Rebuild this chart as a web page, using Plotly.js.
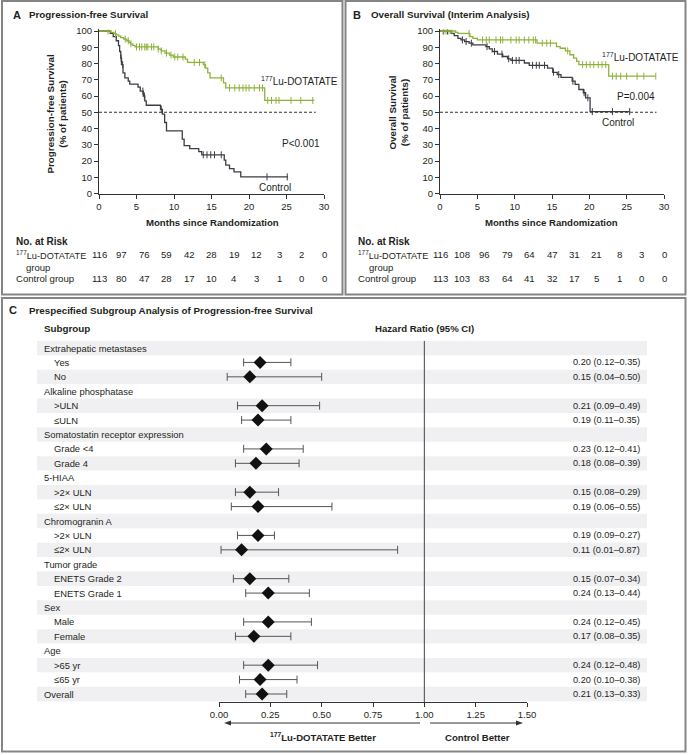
<!DOCTYPE html>
<html><head><meta charset="utf-8">
<script src="https://cdn.plot.ly/plotly-3.0.1.min.js"></script>
<style>html,body{margin:0;padding:0;background:#fff}#chart{width:688px;height:755px}</style>
</head><body><div id="chart"></div>
<script>
// ---------------- DATA ----------------
// Panel A: progression-free survival (months, % of patients)
const pfsLuT = [0,1.6,2.0,2.3,2.6,2.9,3.3,3.7,4.0,4.2,4.5,4.8,7.9,8.3,8.8,9.4,9.9,11.5,11.8,13.9,14.2,14.5,14.8,16.6,16.9,22.1];
const pfsLuS = [100,99.2,98.4,97.6,96.8,95.9,95.0,94.0,93.0,92.1,91.2,90.2,88.9,87.8,86.4,85.2,84.0,82.7,80.7,79.3,77.2,74.2,71.1,68.1,65.0,57.3];
const pfsLuEnd = 28.7;
const pfsLuCens = [1.2,2.2,3.5,3.9,4.25,5.0,5.4,5.7,6.1,6.3,6.5,7.0,7.3,7.9,8.3,9.0,9.6,10.1,10.5,11.2,12.7,13.4,14.1,16.3,17.4,18.1,18.7,19.2,19.6,20.0,20.7,21.4,21.8,22.5,23.0,23.6,24.0,25.6,26.9,28.5];
const pfsCtT = [0,1.5,1.9,2.3,2.6,2.75,2.9,3.0,3.2,3.45,3.9,4.1,5.2,5.5,5.9,6.1,6.3,8.2,8.45,8.75,9.0,11.1,11.35,12.1,13.3,13.7,16.7,16.9,17.4,18.0,18.9];
const pfsCtS = [100,98.6,96.5,94.0,91.0,87.4,83.3,79.3,74.2,71.1,69.1,67.3,65.5,63.0,60.0,57.0,54.3,51.8,48.8,43.7,38.6,33.5,29.5,27.6,25.8,23.8,20.5,17.5,15.3,13.3,10.2];
const pfsCtEnd = 25.2;
const pfsCtCens = [2.95,3.15,5.85,6.05,8.3,13.9,14.4,14.9,15.4,16.3,22.4,25.1];

// Panel B: overall survival
const osLuT = [0,2.1,2.4,4.0,4.4,5.0,13.0,15.6,16.1,16.8,17.4,17.9,18.3,18.6,22.6];
const osLuS = [100,99.2,98.6,96.5,95.5,94.5,92.5,90.4,89.4,87.8,85.4,83.3,81.3,79.3,72.2];
const osLuEnd = 28.9;
const osLuCens = [0.4,0.8,1.2,1.6,3.9,5.7,6.2,6.6,7.5,8.1,8.4,9.5,10.2,10.6,11.3,11.9,12.5,12.8,13.7,14.3,14.8,17.1,19.1,19.6,20.1,20.6,21.2,21.7,22.2,23.1,23.6,24.2,25.0,26.4,27.3,28.9];
const osCtT = [0,1.5,1.9,2.4,2.8,3.3,3.9,4.4,6.15,6.6,7.0,7.7,8.4,9.05,9.5,11.3,11.95,14.4,15.1,15.7,16.2,17.7,18.1,18.6,19.2,19.5,20.1];
const osCtS = [100,98.6,97.2,95.5,94.5,93.5,92.5,91.5,90.4,89.0,87.4,85.8,84.3,82.9,81.9,80.3,78.9,77.2,74.6,73.2,71.5,69.1,67.1,64.0,62.0,58.9,50.4];
const osCtEnd = 25.4;
const osCtCens = [0.5,1.0,3.0,3.5,4.2,6.3,7.3,8.3,9.2,9.7,10.2,10.6,12.4,12.9,13.3,14.0,15.2,15.9,17.8,19.3,19.8,20.4,23.1,25.4];

// Numbers at risk
const riskTimes = [0,3,6,9,12,15,18,21,24,27,30];
const pfsRiskLu = [116,97,76,59,42,28,19,12,3,2,0];
const pfsRiskCt = [113,80,47,28,17,10,4,3,1,0,0];
const osRiskLu = [116,108,96,79,64,47,31,21,8,3,0];
const osRiskCt = [113,103,83,64,41,32,17,5,1,0,0];

// Panel C: subgroup analysis
const rowLabels = ['Extrahepatic metastases','Yes','No','Alkaline phosphatase','>ULN','≤ULN',
 'Somatostatin receptor expression','Grade <4','Grade 4','5-HIAA','>2× ULN','≤2× ULN',
 'Chromogranin A','>2× ULN','≤2× ULN','Tumor grade','ENETS Grade 2','ENETS Grade 1',
 'Sex','Male','Female','Age','>65 yr','≤65 yr','Overall'];
const rowLevel = [0,1,1,0,1,1,0,1,1,0,1,1,0,1,1,0,1,1,0,1,1,0,1,1,0];
const hrVal = [null,0.20,0.15,null,0.21,0.19,null,0.23,0.18,null,0.15,0.19,null,0.19,0.11,null,0.15,0.24,null,0.24,0.17,null,0.24,0.20,0.21];
const hrLo  = [null,0.12,0.04,null,0.09,0.11,null,0.12,0.08,null,0.08,0.06,null,0.09,0.01,null,0.07,0.13,null,0.12,0.08,null,0.12,0.10,0.13];
const hrHi  = [null,0.35,0.50,null,0.49,0.35,null,0.41,0.39,null,0.29,0.55,null,0.27,0.87,null,0.34,0.44,null,0.45,0.35,null,0.48,0.38,0.33];
const hrTicks = [0,0.25,0.5,0.75,1,1.25,1.5];

// ---------------- LAYOUT HELPERS ----------------
const W=688,H=755;
const px=x=>x/W, py=y=>1-y/H;
const FONT='Liberation Sans, Arial, sans-serif';
const TXT='#231f20';
const GREEN='#8db33a', DARK='#3c3c44';

function stepAt(T,S,t){let v=S[0];for(let i=0;i<T.length;i++){if(T[i]<=t)v=S[i];}return v;}
function curve(T,S,end,color,xa,ya){
  return {x:[...T,end],y:[...S,S[S.length-1]],mode:'lines',line:{shape:'hv',color:color,width:1.3},xaxis:xa,yaxis:ya,hoverinfo:'skip'};
}
function cens(T,S,C,color,xa,ya){
  return {x:C,y:C.map(t=>stepAt(T,S,t)),mode:'markers',marker:{symbol:'line-ns-open',size:5,color:color,line:{color:color,width:1}},xaxis:xa,yaxis:ya,hoverinfo:'skip'};
}

const traces=[
  curve(pfsCtT,pfsCtS,pfsCtEnd,DARK,'x','y'), cens(pfsCtT,pfsCtS,pfsCtCens,DARK,'x','y'),
  curve(pfsLuT,pfsLuS,pfsLuEnd,GREEN,'x','y'), cens(pfsLuT,pfsLuS,pfsLuCens,GREEN,'x','y'),
  curve(osCtT,osCtS,osCtEnd,DARK,'x2','y2'), cens(osCtT,osCtS,osCtCens,DARK,'x2','y2'),
  curve(osLuT,osLuS,osLuEnd,GREEN,'x2','y2'), cens(osLuT,osLuS,osLuCens,GREEN,'x2','y2')
];

// forest
const fIdx=[],fX=[],fP=[],fM=[];
hrVal.forEach((v,i)=>{if(v!==null){fIdx.push(-i);fX.push(v);fP.push(hrHi[i]-v);fM.push(v-hrLo[i]);}});
traces.push({x:fX,y:fIdx,mode:'markers',xaxis:'x3',yaxis:'y3',hoverinfo:'skip',cliponaxis:false,
  marker:{symbol:'diamond',size:10,color:'#111'},
  error_x:{type:'data',symmetric:false,array:fP,arrayminus:fM,color:'#555',thickness:1,width:4}});

const axBase={showgrid:false,zeroline:false,showline:true,linecolor:'#333',linewidth:1,ticks:'outside',ticklen:4,tickcolor:'#333',tickwidth:1,tickfont:{family:FONT,size:9.5,color:TXT},fixedrange:true};
const yTop=193.5-101*1.625;
const layout={
  width:W,height:H,margin:{l:0,r:0,t:0,b:0},paper_bgcolor:'#fff',plot_bgcolor:'rgba(0,0,0,0)',showlegend:false,
  font:{family:FONT,color:TXT,size:9.5},
  xaxis:Object.assign({},axBase,{domain:[px(99),px(324)],range:[0,30],tickvals:[0,5,10,15,20,25,30],anchor:'y'}),
  yaxis:Object.assign({},axBase,{domain:[py(193.5),py(yTop)],range:[0,101],tickvals:[0,10,20,30,40,50,60,70,80,90,100],anchor:'x'}),
  xaxis2:Object.assign({},axBase,{domain:[px(440),px(664)],range:[0,30],tickvals:[0,5,10,15,20,25,30],anchor:'y2'}),
  yaxis2:Object.assign({},axBase,{domain:[py(193.5),py(yTop)],range:[0,101],tickvals:[0,10,20,30,40,50,60,70,80,90,100],anchor:'x2'}),
  xaxis3:Object.assign({},axBase,{domain:[px(219),px(527)],range:[0,1.5],tickvals:hrTicks,tickformat:'.2f',anchor:'y3'}),
  yaxis3:{domain:[py(702),py(340.8)],range:[-24.555,0.5],visible:false,fixedrange:true,anchor:'x3'},
  shapes:[],annotations:[]
};
const S=layout.shapes, A=layout.annotations;
// panel borders
[[2,1,342.5,294.5],[345.5,1,685.5,294.5],[2,298,685.5,751.5]].forEach(b=>S.push({type:'rect',xref:'paper',yref:'paper',x0:px(b[0]),x1:px(b[2]),y0:py(b[3]),y1:py(b[1]),line:{color:'#858585',width:2},layer:'above'}));
// dashed 50% lines
S.push({type:'line',xref:'x',yref:'y',x0:0,x1:28.9,y0:50,y1:50,line:{color:'#333',width:1,dash:'3px,2px'}});
S.push({type:'line',xref:'x2',yref:'y2',x0:0,x1:29,y0:50,y1:50,line:{color:'#333',width:1,dash:'3px,2px'}});
// row shading
rowLabels.forEach((l,i)=>{ if(i%2===0) S.push({type:'rect',xref:'paper',yref:'y3',x0:px(37),x1:px(647),y0:-i-0.5,y1:-i+0.5,fillcolor:'#f0f0f2',line:{width:0},layer:'below'}); });
// reference line at HR 1
S.push({type:'line',xref:'x3',yref:'y3',x0:1,x1:1,y0:0.5,y1:-24.555,line:{color:'#444',width:1}});
// arrows
const ay=py(723);
S.push({type:'line',xref:'paper',yref:'paper',x0:px(420),x1:px(230),y0:ay,y1:ay,line:{color:'#333',width:1}});
S.push({type:'path',xref:'paper',yref:'paper',path:`M ${px(224)} ${ay} L ${px(231)} ${py(720.5)} L ${px(231)} ${py(725.5)} Z`,fillcolor:'#333',line:{width:0}});
S.push({type:'line',xref:'paper',yref:'paper',x0:px(430),x1:px(517),y0:ay,y1:ay,line:{color:'#333',width:1}});
S.push({type:'path',xref:'paper',yref:'paper',path:`M ${px(523)} ${ay} L ${px(516)} ${py(720.5)} L ${px(516)} ${py(725.5)} Z`,fillcolor:'#333',line:{width:0}});

function ann(text,x,y,opts){A.push(Object.assign({text:text,xref:'paper',yref:'paper',x:px(x),y:py(y),xanchor:'left',yanchor:'middle',showarrow:false,font:{family:FONT,size:9.5,color:TXT}},opts||{}));}
const LU='<sup>177</sup>Lu-DOTATATE';
// Panel A texts
ann('<b>A</b>',11,15,{font:{family:FONT,size:11,color:TXT}});
ann('<b>Progression-free Survival</b>',27,15,{font:{family:FONT,size:9.8,color:TXT}});
ann('<b>Progression-free Survival<br>(% of patients)</b>',56.5,113,{xanchor:'center',textangle:-90,font:{family:FONT,size:9.8,color:TXT}});
ann('<b>Months since Randomization</b>',212,223,{xanchor:'center',font:{family:FONT,size:9.6,color:TXT}});
ann(LU,259,81,{font:{family:FONT,size:10,color:TXT}});
ann('P&lt;0.001',280,143,{font:{family:FONT,size:10,color:TXT}});
ann('Control',257,188,{font:{family:FONT,size:10,color:TXT}});
// Panel B texts
ann('<b>B</b>',351,15,{font:{family:FONT,size:11,color:TXT}});
ann('<b>Overall Survival (Interim Analysis)</b>',369,15,{font:{family:FONT,size:9.8,color:TXT}});
ann('<b>Overall Survival<br>(% of patients)</b>',398.5,113,{xanchor:'center',textangle:-90,font:{family:FONT,size:9.8,color:TXT}});
ann('<b>Months since Randomization</b>',551,223,{xanchor:'center',font:{family:FONT,size:9.6,color:TXT}});
ann(LU,600,57,{font:{family:FONT,size:10,color:TXT}});
ann('P=0.004',615,97,{font:{family:FONT,size:10,color:TXT}});
ann('Control',600,122,{font:{family:FONT,size:10,color:TXT}});
// at-risk tables
function riskTable(xref,left,lu,ct){
  ann('<b>No. at Risk</b>',left,242,{font:{family:FONT,size:10,color:TXT}});
  ann(LU,left,255,{font:{family:FONT,size:9.2,color:TXT}});
  ann('group',left+10.5,267,{font:{family:FONT,size:9.5,color:TXT}});
  ann('Control group',left,278,{font:{family:FONT,size:9.6,color:TXT}});
  riskTimes.forEach((t,i)=>{
    A.push({text:String(lu[i]),xref:xref,yref:'paper',x:t,y:py(255),xanchor:'center',yanchor:'middle',showarrow:false,font:{family:FONT,size:9.6,color:TXT}});
    A.push({text:String(ct[i]),xref:xref,yref:'paper',x:t,y:py(278),xanchor:'center',yanchor:'middle',showarrow:false,font:{family:FONT,size:9.6,color:TXT}});
  });
}
riskTable('x',13.5,pfsRiskLu,pfsRiskCt);
riskTable('x2',356,osRiskLu,osRiskCt);
// Panel C texts
ann('<b>C</b>',7,310,{font:{family:FONT,size:11,color:TXT}});
ann('<b>Prespecified Subgroup Analysis of Progression-free Survival</b>',27,310,{font:{family:FONT,size:9.8,color:TXT}});
ann('<b>Subgroup</b>',42,328,{font:{family:FONT,size:9.8,color:TXT}});
ann('<b>Hazard Ratio (95% CI)</b>',424,328,{xanchor:'center',font:{family:FONT,size:9.6,color:TXT}});
const esc=s=>s.replace(/</g,'&lt;').replace(/>/g,'&gt;');
rowLabels.forEach((l,i)=>{
  A.push({text:esc(l),xref:'paper',yref:'y3',x:px(rowLevel[i]?52:42),y:-i,xanchor:'left',yanchor:'middle',showarrow:false,font:{family:FONT,size:9.4,color:TXT}});
  if(hrVal[i]!==null){
    const t=hrVal[i].toFixed(2)+' ('+hrLo[i].toFixed(2)+'–'+hrHi[i].toFixed(2)+')';
    A.push({text:t,xref:'paper',yref:'y3',x:px(642),y:-i,xanchor:'right',yanchor:'middle',showarrow:false,font:{family:FONT,size:9.2,color:TXT}});
  }
});
ann('<b>'+LU+' Better</b>',323,737,{xanchor:'center',font:{family:FONT,size:9.6,color:TXT}});
ann('<b>Control Better</b>',477,737,{xanchor:'center',font:{family:FONT,size:9.6,color:TXT}});

Plotly.newPlot('chart',traces,layout,{staticPlot:true,displayModeBar:false});
</script></body></html>
